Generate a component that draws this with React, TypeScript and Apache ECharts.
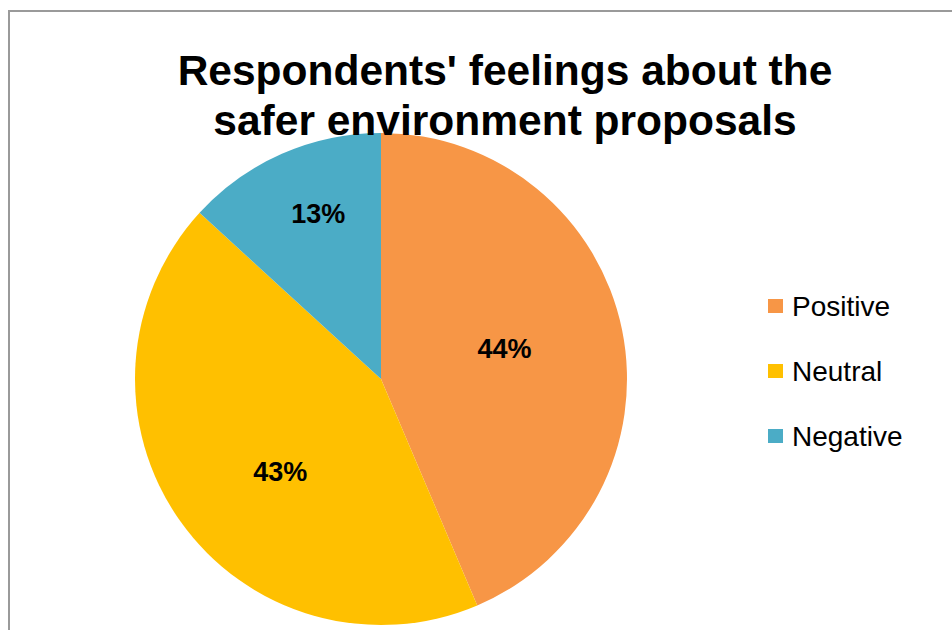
import React, { useEffect, useRef } from "react";
import * as echarts from "echarts";

const titleLines = ["Respondents' feelings about the", "safer environment proposals"];
const categories = ["Positive", "Neutral", "Negative"];
const values = [43.6, 43.2, 13.2];
const colors = ["#F79646", "#FFC000", "#4BACC6"];
// label nudges (styling only)
const labelShift = [
  [0, -5],
  [2, 20],
  [-12, -50],
];

const FONT = "'Liberation Sans', Arial, sans-serif";

export default function App() {
  const ref = useRef<HTMLDivElement>(null);
  useEffect(() => {
    if (!ref.current) return;
    const chart = echarts.init(ref.current, undefined, { renderer: "svg" });
    chart.setOption({
      animation: false,
      backgroundColor: "#ffffff",
      title: {
        text: titleLines.join("\n"),
        left: 505,
        top: 45,
        textAlign: "center",
        padding: 0,
        textStyle: {
          fontFamily: FONT,
          fontWeight: "bold",
          fontSize: 42.5,
          lineHeight: 50,
          color: "#000",
        },
      },
      legend: {
        orient: "vertical",
        left: 768,
        top: 290,
        padding: 0,
        itemWidth: 15,
        itemHeight: 14,
        itemGap: 33,
        icon: "rect",
        data: categories,
        textStyle: {
          fontFamily: FONT,
          fontSize: 28,
          lineHeight: 32,
          color: "#000",
          padding: [0, 0, 0, 4],
        },
      },
      graphic: [
        {
          type: "rect",
          shape: { x: 9, y: 11, width: 980, height: 700 },
          style: { fill: "none", stroke: "#9a9a9a", lineWidth: 2 },
          z: 100,
          silent: true,
        },
      ],
      series: [
        {
          type: "pie",
          center: [381, 379],
          radius: 246,
          startAngle: 90,
          clockwise: true,
          z: 1,
          data: categories.map((c, i) => ({
            name: c,
            value: values[i],
            itemStyle: { color: colors[i] },
          })),
          itemStyle: { borderWidth: 0 },
          label: {
            show: true,
            position: "inside",
            formatter: (p: any) => Math.round(p.percent) + "%",
            fontFamily: FONT,
            fontWeight: "bold",
            fontSize: 27,
            color: "#000",
          },
          labelLine: { show: false },
          labelLayout: (p: any) => ({
            dx: labelShift[p.dataIndex][0],
            dy: labelShift[p.dataIndex][1],
          }),
          emphasis: { disabled: true },
        },
      ],
    });
    return () => chart.dispose();
  }, []);
  return (
    <div
      ref={ref}
      style={{ position: "absolute", left: 0, top: 0, width: 952, height: 630 }}
    />
  );
}
